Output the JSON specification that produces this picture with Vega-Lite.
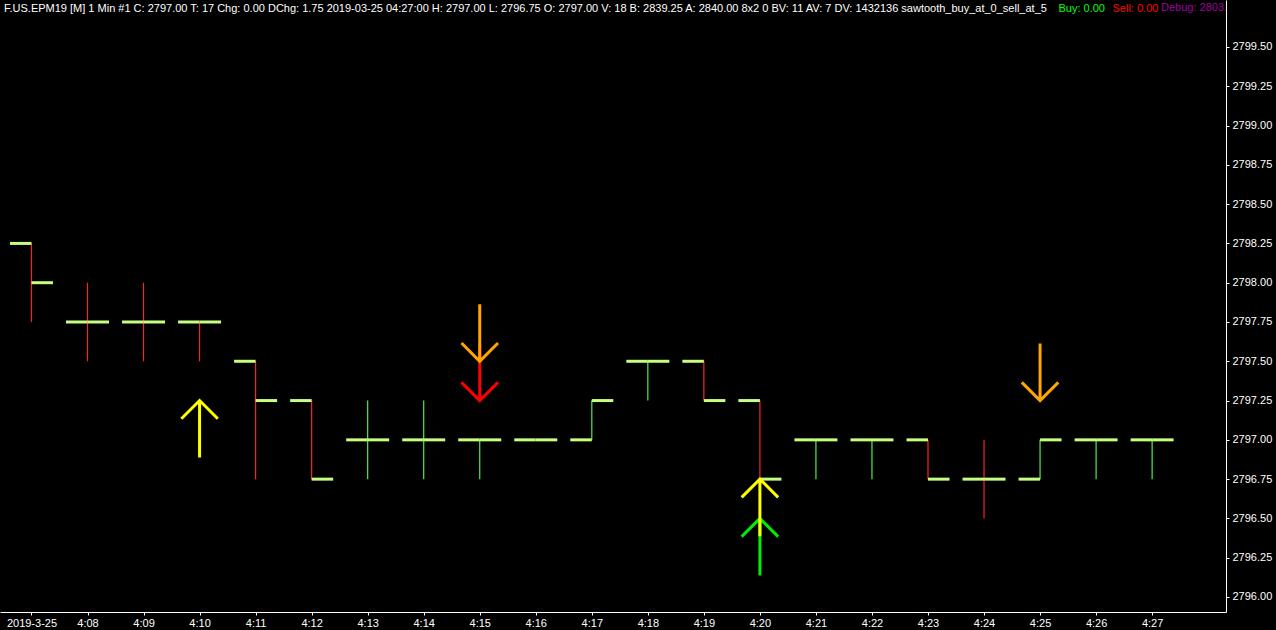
{
  "$schema": "https://vega.github.io/schema/vega-lite/v6.json",
  "width": 1226,
  "height": 612,
  "autosize": {"type": "none"},
  "padding": {"left": 0, "top": 0, "right": 50, "bottom": 18},
  "background": "#000000",
  "config": {"view": {"stroke": null}, "font": "Liberation Sans"},
  "title": {
    "text": "F.US.EPM19 [M]  1 Min   #1 C: 2797.00 T: 17 Chg: 0.00 DChg: 1.75 2019-03-25 04:27:00 H: 2797.00 L: 2796.75 O: 2797.00 V: 18 B: 2839.25 A: 2840.00 8x2 0 BV: 11 AV: 7 DV: 1432136 sawtooth_buy_at_0_sell_at_5",
    "anchor": "start",
    "frame": "group",
    "orient": "top",
    "offset": -14,
    "dx": 4,
    "color": "#ffffff",
    "font": "Liberation Sans",
    "fontSize": 11,
    "fontWeight": "normal"
  },
  "datasets": {
    "bars": [
      {"time": "2019-03-25T04:07:00Z", "open": 2798.25, "high": 2798.25, "low": 2797.75, "close": 2798.00, "dir": "down"},
      {"time": "2019-03-25T04:08:00Z", "open": 2797.75, "high": 2798.00, "low": 2797.50, "close": 2797.75, "dir": "down"},
      {"time": "2019-03-25T04:09:00Z", "open": 2797.75, "high": 2798.00, "low": 2797.50, "close": 2797.75, "dir": "down"},
      {"time": "2019-03-25T04:10:00Z", "open": 2797.75, "high": 2797.75, "low": 2797.50, "close": 2797.75, "dir": "down"},
      {"time": "2019-03-25T04:11:00Z", "open": 2797.50, "high": 2797.50, "low": 2796.75, "close": 2797.25, "dir": "down"},
      {"time": "2019-03-25T04:12:00Z", "open": 2797.25, "high": 2797.25, "low": 2796.75, "close": 2796.75, "dir": "down"},
      {"time": "2019-03-25T04:13:00Z", "open": 2797.00, "high": 2797.25, "low": 2796.75, "close": 2797.00, "dir": "up"},
      {"time": "2019-03-25T04:14:00Z", "open": 2797.00, "high": 2797.25, "low": 2796.75, "close": 2797.00, "dir": "up"},
      {"time": "2019-03-25T04:15:00Z", "open": 2797.00, "high": 2797.00, "low": 2796.75, "close": 2797.00, "dir": "up"},
      {"time": "2019-03-25T04:16:00Z", "open": 2797.00, "high": 2797.00, "low": 2797.00, "close": 2797.00, "dir": "up"},
      {"time": "2019-03-25T04:17:00Z", "open": 2797.00, "high": 2797.25, "low": 2797.00, "close": 2797.25, "dir": "up"},
      {"time": "2019-03-25T04:18:00Z", "open": 2797.50, "high": 2797.50, "low": 2797.25, "close": 2797.50, "dir": "up"},
      {"time": "2019-03-25T04:19:00Z", "open": 2797.50, "high": 2797.50, "low": 2797.25, "close": 2797.25, "dir": "down"},
      {"time": "2019-03-25T04:20:00Z", "open": 2797.25, "high": 2797.25, "low": 2796.75, "close": 2796.75, "dir": "down"},
      {"time": "2019-03-25T04:21:00Z", "open": 2797.00, "high": 2797.00, "low": 2796.75, "close": 2797.00, "dir": "up"},
      {"time": "2019-03-25T04:22:00Z", "open": 2797.00, "high": 2797.00, "low": 2796.75, "close": 2797.00, "dir": "up"},
      {"time": "2019-03-25T04:23:00Z", "open": 2797.00, "high": 2797.00, "low": 2796.75, "close": 2796.75, "dir": "down"},
      {"time": "2019-03-25T04:24:00Z", "open": 2796.75, "high": 2797.00, "low": 2796.50, "close": 2796.75, "dir": "down"},
      {"time": "2019-03-25T04:25:00Z", "open": 2796.75, "high": 2797.00, "low": 2796.75, "close": 2797.00, "dir": "up"},
      {"time": "2019-03-25T04:26:00Z", "open": 2797.00, "high": 2797.00, "low": 2796.75, "close": 2797.00, "dir": "up"},
      {"time": "2019-03-25T04:27:00Z", "open": 2797.00, "high": 2797.00, "low": 2796.75, "close": 2797.00, "dir": "up"}
    ],
    "signals": [
      {"time": "2019-03-25T04:20:00Z", "price": 2796.50, "dir": "up", "signal": "Buy"},
      {"time": "2019-03-25T04:15:00Z", "price": 2797.25, "dir": "down", "signal": "Sell"},
      {"time": "2019-03-25T04:10:00Z", "price": 2797.25, "dir": "up", "signal": "Buy entry"},
      {"time": "2019-03-25T04:20:00Z", "price": 2796.75, "dir": "up", "signal": "Buy entry"},
      {"time": "2019-03-25T04:15:00Z", "price": 2797.50, "dir": "down", "signal": "Sell entry"},
      {"time": "2019-03-25T04:25:00Z", "price": 2797.25, "dir": "down", "signal": "Sell entry"}
    ]
  },
  "encoding": {
    "x": {
      "field": "time",
      "type": "temporal",
      "title": "Buy: 0.00",
      "scale": {
        "type": "utc",
        "domain": [
          {"year": 2019, "month": 3, "date": 25, "hours": 4, "minutes": 6, "seconds": 26, "milliseconds": 300, "utc": true},
          {"year": 2019, "month": 3, "date": 25, "hours": 4, "minutes": 28, "seconds": 19, "milliseconds": 100, "utc": true}
        ]
      },
      "axis": {
        "values": [
          {"year": 2019, "month": 3, "date": 25, "hours": 4, "minutes": 7, "utc": true},
          {"year": 2019, "month": 3, "date": 25, "hours": 4, "minutes": 8, "utc": true},
          {"year": 2019, "month": 3, "date": 25, "hours": 4, "minutes": 9, "utc": true},
          {"year": 2019, "month": 3, "date": 25, "hours": 4, "minutes": 10, "utc": true},
          {"year": 2019, "month": 3, "date": 25, "hours": 4, "minutes": 11, "utc": true},
          {"year": 2019, "month": 3, "date": 25, "hours": 4, "minutes": 12, "utc": true},
          {"year": 2019, "month": 3, "date": 25, "hours": 4, "minutes": 13, "utc": true},
          {"year": 2019, "month": 3, "date": 25, "hours": 4, "minutes": 14, "utc": true},
          {"year": 2019, "month": 3, "date": 25, "hours": 4, "minutes": 15, "utc": true},
          {"year": 2019, "month": 3, "date": 25, "hours": 4, "minutes": 16, "utc": true},
          {"year": 2019, "month": 3, "date": 25, "hours": 4, "minutes": 17, "utc": true},
          {"year": 2019, "month": 3, "date": 25, "hours": 4, "minutes": 18, "utc": true},
          {"year": 2019, "month": 3, "date": 25, "hours": 4, "minutes": 19, "utc": true},
          {"year": 2019, "month": 3, "date": 25, "hours": 4, "minutes": 20, "utc": true},
          {"year": 2019, "month": 3, "date": 25, "hours": 4, "minutes": 21, "utc": true},
          {"year": 2019, "month": 3, "date": 25, "hours": 4, "minutes": 22, "utc": true},
          {"year": 2019, "month": 3, "date": 25, "hours": 4, "minutes": 23, "utc": true},
          {"year": 2019, "month": 3, "date": 25, "hours": 4, "minutes": 24, "utc": true},
          {"year": 2019, "month": 3, "date": 25, "hours": 4, "minutes": 25, "utc": true},
          {"year": 2019, "month": 3, "date": 25, "hours": 4, "minutes": 26, "utc": true},
          {"year": 2019, "month": 3, "date": 25, "hours": 4, "minutes": 27, "utc": true}
        ],
        "labelExpr": "utcFormat(datum.value, '%H:%M') == '04:07' ? '2019-3-25' : utcFormat(datum.value, '%-H:%M')",
        "grid": false,
        "domainColor": "#ffffff",
        "domainWidth": 1,
        "tickColor": "#ffffff",
        "tickSize": 3,
        "labelColor": "#ffffff",
        "labelFont": "Liberation Sans",
        "labelFontSize": 11,
        "labelPadding": 2,
        "labelFlush": false,
        "labelOverlap": false,
        "titleColor": "#00ff00",
        "titleFont": "Liberation Sans",
        "titleFontSize": 11,
        "titleFontWeight": "normal",
        "titleAlign": "left",
        "titleBaseline": "alphabetic",
        "titleX": 1058,
        "titleY": -601
      }
    }
  },
  "layer": [
    {
      "data": {"name": "bars"},
      "mark": {"type": "rule", "strokeWidth": 1.2},
      "encoding": {
        "y": {
          "field": "low",
          "type": "quantitative",
          "title": "Sell: 0.00",
          "scale": {"domain": [2795.9045, 2799.799], "nice": false, "zero": false},
          "axis": {
            "orient": "right",
            "values": [2796, 2796.25, 2796.5, 2796.75, 2797, 2797.25, 2797.5, 2797.75, 2798, 2798.25, 2798.5, 2798.75, 2799, 2799.25, 2799.5],
            "format": ".2f",
            "grid": false,
            "domainColor": "#ffffff",
            "tickColor": "#ffffff",
            "tickSize": 3,
            "labelColor": "#ffffff",
            "labelFont": "Liberation Sans",
            "labelFontSize": 11,
            "labelPadding": 3,
            "labelFlush": false,
            "labelOverlap": false,
            "titleColor": "#ff0000",
            "titleFont": "Liberation Sans",
            "titleFontSize": 11,
            "titleFontWeight": "normal",
            "titleAngle": 0,
            "titleAlign": "left",
            "titleBaseline": "alphabetic",
            "titleX": -114,
            "titleY": 11
          }
        },
        "y2": {"field": "high"},
        "color": {
          "field": "dir",
          "type": "nominal",
          "scale": {"domain": ["up", "down"], "range": ["#4cf04c", "#ff2222"]},
          "legend": null
        }
      }
    },
    {
      "data": {"name": "bars"},
      "mark": {"type": "rule", "strokeWidth": 3, "color": "#c6ff80", "xOffset": -21.5},
      "encoding": {
        "x2": {"field": "time"},
        "y": {"field": "open", "type": "quantitative", "title": "Sell: 0.00", "scale": {"domain": [2795.9045, 2799.799], "nice": false, "zero": false}}
      }
    },
    {
      "data": {"name": "bars"},
      "mark": {"type": "rule", "strokeWidth": 3, "color": "#c6ff80", "x2Offset": 21.5},
      "encoding": {
        "x2": {"field": "time"},
        "y": {"field": "close", "type": "quantitative", "title": "Sell: 0.00", "scale": {"domain": [2795.9045, 2799.799], "nice": false, "zero": false}}
      }
    },
    {
      "data": {"name": "signals"},
      "mark": {"type": "point", "filled": false, "size": 12996, "strokeWidth": 3, "opacity": 1, "strokeJoin": "miter"},
      "encoding": {
        "y": {"field": "price", "type": "quantitative", "title": "Sell: 0.00", "scale": {"domain": [2795.9045, 2799.799], "nice": false, "zero": false}},
        "shape": {
          "field": "dir",
          "type": "nominal",
          "scale": {"domain": ["up", "down"], "range": ["M0,1L0,0M-0.32,0.32L0,0L0.32,0.32", "M0,-1L0,0M-0.32,-0.32L0,0L0.32,-0.32"]},
          "legend": null
        },
        "color": {
          "field": "signal",
          "type": "nominal",
          "scale": {"domain": ["Buy", "Sell", "Buy entry", "Sell entry"], "range": ["#00ee00", "#ff0000", "#ffff00", "#ffa500"]},
          "legend": {
            "orient": "none",
            "legendX": 1161,
            "legendY": 2,
            "title": "Debug: 2803.",
            "titleColor": "#a000a0",
            "titleFont": "Liberation Sans",
            "titleFontSize": 11,
            "titleFontWeight": "normal",
            "titlePadding": 0,
            "padding": 0,
            "labelOpacity": 0,
            "symbolOpacity": 0,
            "symbolSize": 0,
            "symbolStrokeWidth": 0,
            "labelFontSize": 1,
            "rowPadding": 0
          }
        }
      }
    }
  ],
  "resolve": {"scale": {"color": "independent", "shape": "independent"}}
}
